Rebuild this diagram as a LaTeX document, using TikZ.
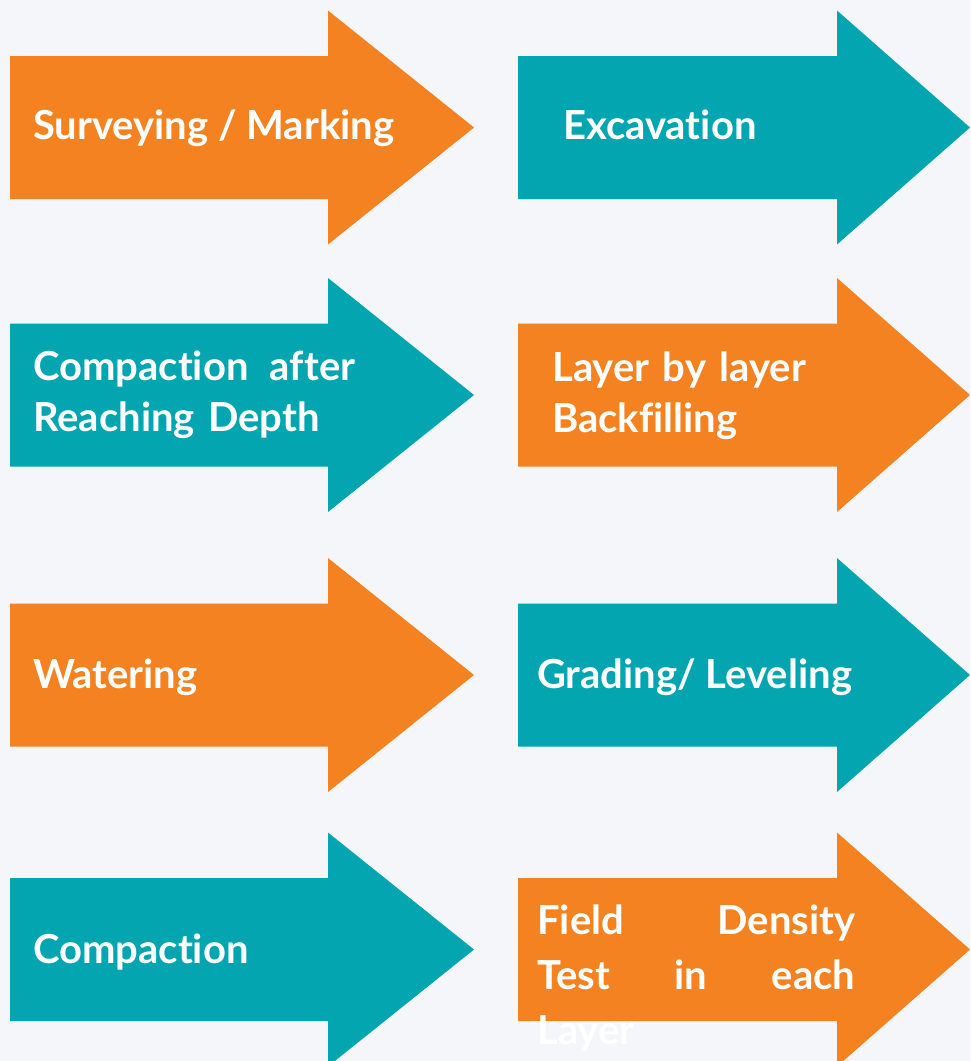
\documentclass[tikz,border=0pt]{standalone}
\usepackage{fontspec}
\setmainfont{Lato}[Ligatures={NoCommon}]
\usetikzlibrary{positioning}

\definecolor{bgcol}{RGB}{245,246,250}
\definecolor{orangecol}{RGB}{245,130,32}
\definecolor{tealcol}{RGB}{2,165,176}

\tikzset{
    steplabel/.style={anchor=base west, inner sep=0pt, text=white,
        font=\fontsize{40}{51}\selectfont\bfseries},
}

% block arrow: left x, head base x, tip x, middle y, colour
\newcommand{\blockarrow}[5]{%
    \fill[#5] (#1,#4-71.5) -- (#2,#4-71.5) -- (#2,#4-117) -- (#3,#4)
        -- (#2,#4+117) -- (#2,#4+71.5) -- (#1,#4+71.5) -- cycle;}

\begin{document}
\begin{tikzpicture}[x=1pt, y=-1pt]
    \path[use as bounding box, clip] (0,0) rectangle (970,1061);
    \fill[bgcol] (0,0) rectangle (970,1061);

    \blockarrow{10}{328}{474}{127.5}{orangecol}
    \blockarrow{518}{837}{970}{127.5}{tealcol}
    \blockarrow{10}{328}{474}{395}{tealcol}
    \blockarrow{518}{837}{970}{395}{orangecol}
    \blockarrow{10}{328}{474}{675}{orangecol}
    \blockarrow{518}{837}{970}{675}{tealcol}
    \blockarrow{10}{328}{474}{949.5}{tealcol}
    \blockarrow{518}{837}{970}{949.5}{orangecol}

    \node[steplabel] (survey) at (33,139) {Surveying / Marking};
    \node[steplabel] (excav) at (563,139) {Excavation};
    \node[steplabel, text width=322pt, align=left] (compdepth) at (33,380)
        {Compaction\hfill after\\Reaching Depth};
    \node[steplabel, text width=300pt, align=left] (backfill) at (552,381)
        {Layer by layer\\Backfilling};
    \node[steplabel] (water) at (33,688) {Watering};
    \node[steplabel] (grade) at (537,688) {Grading/ Leveling};
    \node[steplabel] (compact) at (33,963) {Compaction};
    \node[steplabel, text width=318pt, align=left,
        font=\fontsize{40}{55}\selectfont\bfseries] (fdt) at (537,934)
        {Field\hfill Density\\Test\hfill in\hfill each\\Layer};
\end{tikzpicture}
\end{document}
